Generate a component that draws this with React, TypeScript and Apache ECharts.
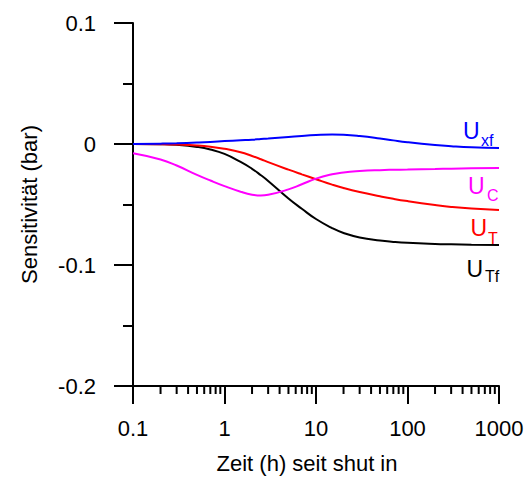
import React, { useEffect, useRef } from "react";
import * as echarts from "echarts";

const times = [0.1, 0.2, 0.3, 0.5, 0.7, 1, 1.5, 2, 2.5, 3, 5, 7, 10, 15, 20, 30, 50, 70, 100, 200, 300, 500, 1000];
const uxf = [0, 0.0003, 0.0006, 0.0012, 0.0017, 0.0024, 0.0031, 0.0036, 0.0041, 0.0045, 0.0058, 0.0067, 0.0074, 0.0078, 0.0076, 0.0066, 0.0046, 0.003, 0.0015, -0.0008, -0.0018, -0.0027, -0.0033];
const uc = [-0.0076, -0.0128, -0.0178, -0.0255, -0.0302, -0.0348, -0.0394, -0.0419, -0.0426, -0.042, -0.0375, -0.0333, -0.0286, -0.025, -0.0235, -0.0224, -0.0216, -0.0213, -0.0211, -0.0207, -0.0204, -0.0201, -0.0198];
const ut = [0, -0.0002, -0.0005, -0.0012, -0.0022, -0.004, -0.0068, -0.0099, -0.0126, -0.015, -0.0212, -0.0251, -0.0291, -0.0336, -0.0364, -0.0397, -0.0432, -0.0453, -0.0472, -0.0504, -0.052, -0.0534, -0.0546];
const utf = [0, -0.0002, -0.0007, -0.0024, -0.0045, -0.0082, -0.0148, -0.0205, -0.0258, -0.0305, -0.045, -0.0535, -0.062, -0.0695, -0.0735, -0.0772, -0.0798, -0.0809, -0.0817, -0.0826, -0.0829, -0.0832, -0.0834];
const decades = [0.1, 1, 10, 100];
const minorFactors = [2, 3, 4, 5, 6, 7, 8, 9];
const yMin = -0.2;
const yMax = 0.1;
const xName = "Zeit (h) seit shut in";
const yName = "Sensitivität (bar)";

const FONT = "Liberation Sans, Arial, sans-serif";

export default function App() {
  const ref = useRef<HTMLDivElement>(null);
  useEffect(() => {
    document.body.style.margin = "0";
    const chart = echarts.init(ref.current!, null, { renderer: "svg" });
    const minorTicks: number[][] = [];
    decades.forEach((d) => minorFactors.forEach((k) => minorTicks.push([+(d * k).toPrecision(3), yMin])));
    const mk = (data: number[], color: string) => ({
      type: "line",
      data: times.map((t, i) => [t, data[i]]),
      showSymbol: false,
      smooth: 0.5,
      lineStyle: { color, width: 2 },
      itemStyle: { color },
      silent: true,
    });
    const lbl = (x: number, y: number, text: string, size: number, color: string) => ({
      type: "text",
      x,
      y,
      style: { text, fontSize: size, fontFamily: FONT, fill: color, align: "left", verticalAlign: "middle" },
    });
    chart.setOption({
      animation: false,
      backgroundColor: "#fff",
      grid: { left: 133, right: 30, top: 23, bottom: 90 },
      xAxis: {
        type: "log",
        logBase: 10,
        min: 0.1,
        max: 1000,
        name: xName,
        nameLocation: "middle",
        nameGap: 66,
        nameTextStyle: { fontSize: 22, fontFamily: FONT, color: "#000", padding: [0, 18, 0, 0] },
        axisLine: { onZero: false, lineStyle: { color: "#000", width: 2 } },
        axisTick: { show: true, length: 18, inside: false, lineStyle: { color: "#000", width: 2 } },
        axisLabel: {
          fontSize: 22,
          fontFamily: FONT,
          color: "#000",
          margin: 31,
          formatter: (v: number) => (v < 1 ? String(+v.toFixed(1)) : String(Math.round(v))),
        },
        splitLine: { show: false },
        minorTick: { show: false },
      },
      yAxis: {
        type: "value",
        min: yMin,
        max: yMax,
        interval: 0.1,
        name: yName,
        nameLocation: "middle",
        nameGap: 93,
        nameTextStyle: { fontSize: 22, fontFamily: FONT, color: "#000" },
        axisLine: { show: true, onZero: false, lineStyle: { color: "#000", width: 2 } },
        axisTick: { show: true, length: 19, lineStyle: { color: "#000", width: 2 } },
        minorTick: { show: true, splitNumber: 2, length: 10, lineStyle: { color: "#000", width: 2 } },
        axisLabel: {
          fontSize: 22,
          fontFamily: FONT,
          color: "#000",
          margin: 37,
          formatter: (v: number) => (Math.abs(v) < 1e-9 ? "0" : String(+v.toFixed(1))),
        },
        splitLine: { show: false },
      },
      series: [
        mk(utf, "#000000"),
        mk(ut, "#ff0000"),
        mk(uc, "#ff00ff"),
        mk(uxf, "#0000ff"),
        {
          type: "custom",
          data: minorTicks,
          silent: true,
          clip: false,
          renderItem: (params: any, api: any) => {
            const p = api.coord([api.value(0), api.value(1)]);
            return {
              type: "line",
              shape: { x1: p[0], y1: p[1], x2: p[0], y2: p[1] + 8 },
              style: { stroke: "#000", lineWidth: 2 },
            };
          },
        },
      ],
      graphic: [
        lbl(463, 131, "U", 23, "#0000ff"),
        lbl(481, 140.5, "xf", 16, "#0000ff"),
        lbl(468, 186, "U", 23, "#ff00ff"),
        lbl(487, 195.5, "C", 16, "#ff00ff"),
        lbl(470.5, 228, "U", 23, "#ff0000"),
        lbl(488, 238, "T", 16, "#ff0000"),
        lbl(466.5, 269, "U", 23, "#000000"),
        lbl(485, 276, "Tf", 16, "#000000"),
      ],
    });
    return () => chart.dispose();
  }, []);
  return <div ref={ref} style={{ width: 529, height: 479 }} />;
}
